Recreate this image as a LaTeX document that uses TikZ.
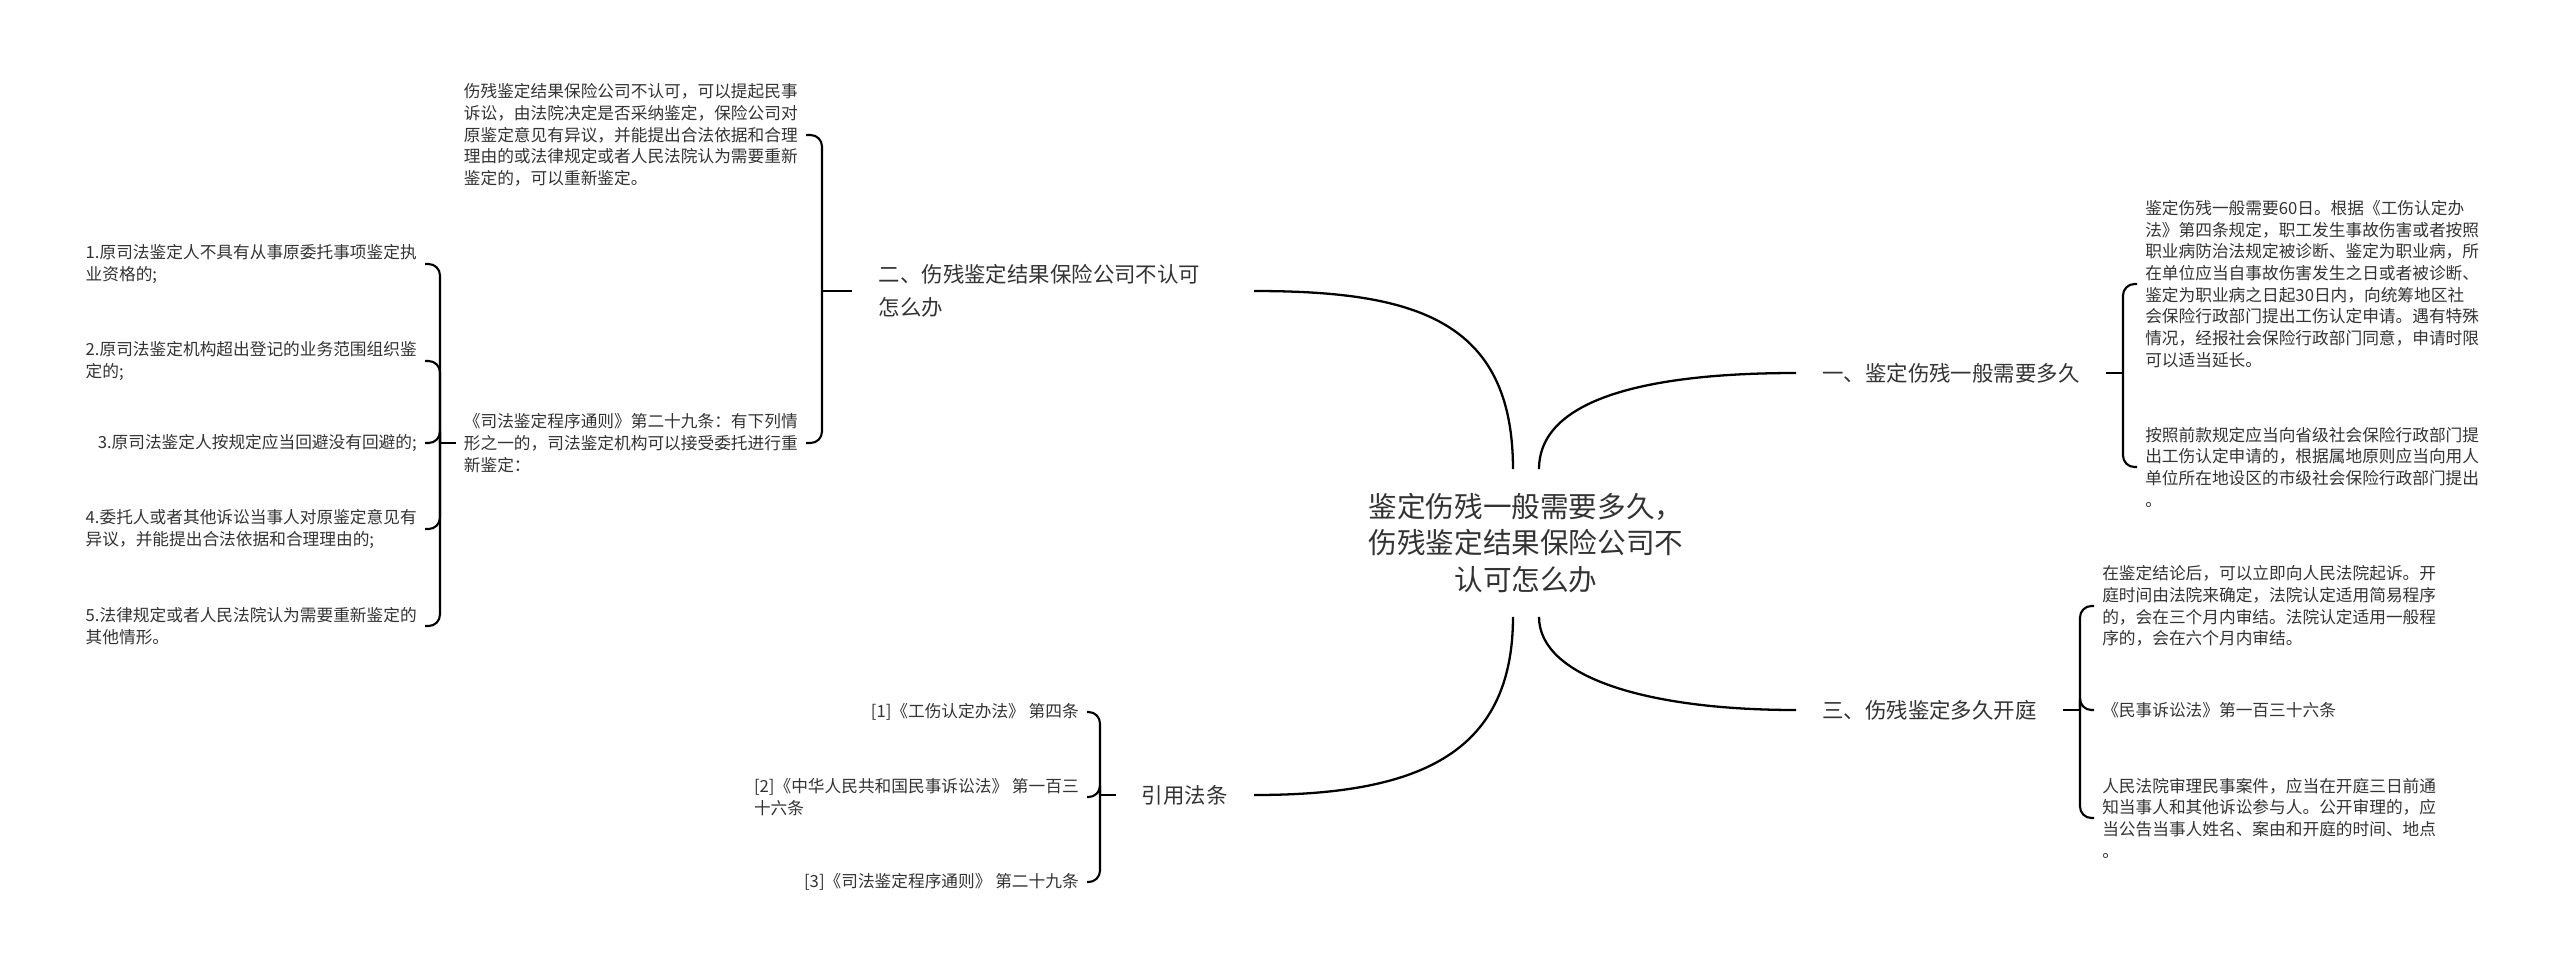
\documentclass[tikz,border=0pt]{standalone}
\usepackage{fontspec}
\usepackage{tikz}
\usetikzlibrary{positioning}
\newfontfamily\cjk{Noto Sans CJK SC}
\definecolor{textgray}{RGB}{51, 51, 51}

\begin{document}
\begin{tikzpicture}[x=0.02cm, y=-0.02cm,
    rootbox/.style={font=\cjk\fontsize{16.3pt}{21pt}\selectfont, text=textgray, align=center, minimum height=2.94cm, inner sep=0pt},
    branchbox/.style={font=\cjk\fontsize{12.2pt}{18.8pt}\selectfont, text=textgray, align=left, inner xsep=14.8pt, inner ysep=3pt},
    leaf/.style={font=\cjk\fontsize{9.5pt}{12.35pt}\selectfont, text=textgray, align=left, inner sep=4.5pt},
    link/.style={line width=1.3pt},
    bracelink/.style={line width=1.2pt, rounded corners=6.5pt}
]

\path[fill=white, use as bounding box] (0,0) rectangle (2560,971);

% Root and main branches
\node[rootbox] (root) at (1526,543) {鉴定伤残一般需要多久，\\伤残鉴定结果保险公司不\\认可怎么办};
\node[branchbox, anchor=west] (b1) at (1796,373) {一、鉴定伤残一般需要多久};
\node[branchbox, anchor=west] (b3) at (1796,710) {三、伤残鉴定多久开庭};
\node[branchbox, anchor=east, text width=6.98cm] (b2) at (1254,291) {二、伤残鉴定结果保险公司不认可\\怎么办};
\node[branchbox, anchor=east] (b4) at (1254,795) {引用法条};

% Brace joints
\coordinate (j1) at (2123,373);
\coordinate (j3) at (2080,710);
\coordinate (j2) at (822,291);
\coordinate (j4) at (1100,795);
\coordinate (j5) at (440,443);

% Leaves
\node[leaf, anchor=west] (t11) at (2137,284) {鉴定伤残一般需要60日。根据《工伤认定办\\法》第四条规定，职工发生事故伤害或者按照\\职业病防治法规定被诊断、鉴定为职业病，所\\在单位应当自事故伤害发生之日或者被诊断、\\鉴定为职业病之日起30日内，向统筹地区社\\会保险行政部门提出工伤认定申请。遇有特殊\\情况，经报社会保险行政部门同意，申请时限\\可以适当延长。};
\node[leaf, anchor=west] (t12) at (2137,467) {按照前款规定应当向省级社会保险行政部门提\\出工伤认定申请的，根据属地原则应当向用人\\单位所在地设区的市级社会保险行政部门提出\\。};
\node[leaf, anchor=west] (t31) at (2094,606) {在鉴定结论后，可以立即向人民法院起诉。开\\庭时间由法院来确定，法院认定适用简易程序\\的，会在三个月内审结。法院认定适用一般程\\序的，会在六个月内审结。};
\node[leaf, anchor=west] (t32) at (2094,710) {《民事诉讼法》第一百三十六条};
\node[leaf, anchor=west] (t33) at (2094,818) {人民法院审理民事案件，应当在开庭三日前通\\知当事人和其他诉讼参与人。公开审理的，应\\当公告当事人姓名、案由和开庭的时间、地点\\。};

\node[leaf, anchor=east] (tA) at (806,135) {伤残鉴定结果保险公司不认可，可以提起民事\\诉讼，由法院决定是否采纳鉴定，保险公司对\\原鉴定意见有异议，并能提出合法依据和合理\\理由的或法律规定或者人民法院认为需要重新\\鉴定的，可以重新鉴定。};
\node[leaf, anchor=east] (tB) at (806,443) {《司法鉴定程序通则》第二十九条：有下列情\\形之一的，司法鉴定机构可以接受委托进行重\\新鉴定：};

\node[leaf, anchor=east] (c1) at (425,264) {1.原司法鉴定人不具有从事原委托事项鉴定执\\业资格的;};
\node[leaf, anchor=east] (c2) at (425,361) {2.原司法鉴定机构超出登记的业务范围组织鉴\\定的;};
\node[leaf, anchor=east] (c3) at (425,443) {3.原司法鉴定人按规定应当回避没有回避的;};
\node[leaf, anchor=east] (c4) at (425,529) {4.委托人或者其他诉讼当事人对原鉴定意见有\\异议，并能提出合法依据和合理理由的;};
\node[leaf, anchor=east] (c5) at (425,626) {5.法律规定或者人民法院认为需要重新鉴定的\\其他情形。};

\node[leaf, anchor=east] (r1) at (1087,712) {[1]《工伤认定办法》 第四条};
\node[leaf, anchor=east] (r2) at (1087,797) {[2]《中华人民共和国民事诉讼法》 第一百三\\十六条};
\node[leaf, anchor=east] (r3) at (1087,882) {[3]《司法鉴定程序通则》 第二十九条};

% Root to branches
\draw[link] (root.100) .. controls +(0,-150) and +(160,0) .. (b2.east);
\draw[link] (root.80) .. controls +(0,-70) and +(-150,0) .. (b1.west);
\draw[link] (root.280) .. controls +(0,60) and +(-150,0) .. (b3.west);
\draw[link] (root.260) .. controls +(0,140) and +(160,0) .. (b4.east);

% Branches to braces
\draw[link] (b1.east) -- (j1);
\draw[link] (b3.east) -- (j3);
\draw[link] (j2) -- (b2.west);
\draw[link] (j4) -- (b4.west);
\draw[link] (j5) -- (tB.west);

\foreach \n in {t11,t12} \draw[bracelink] (j1) |- (\n.west);
\foreach \n in {t31,t32,t33} \draw[bracelink] (j3) |- (\n.west);
\foreach \n in {tA,tB} \draw[bracelink] (j2) |- (\n.east);
\foreach \n in {c1,c2,c3,c4,c5} \draw[bracelink] (j5) |- (\n.east);
\foreach \n in {r1,r2,r3} \draw[bracelink] (j4) |- (\n.east);

\end{tikzpicture}
\end{document}
